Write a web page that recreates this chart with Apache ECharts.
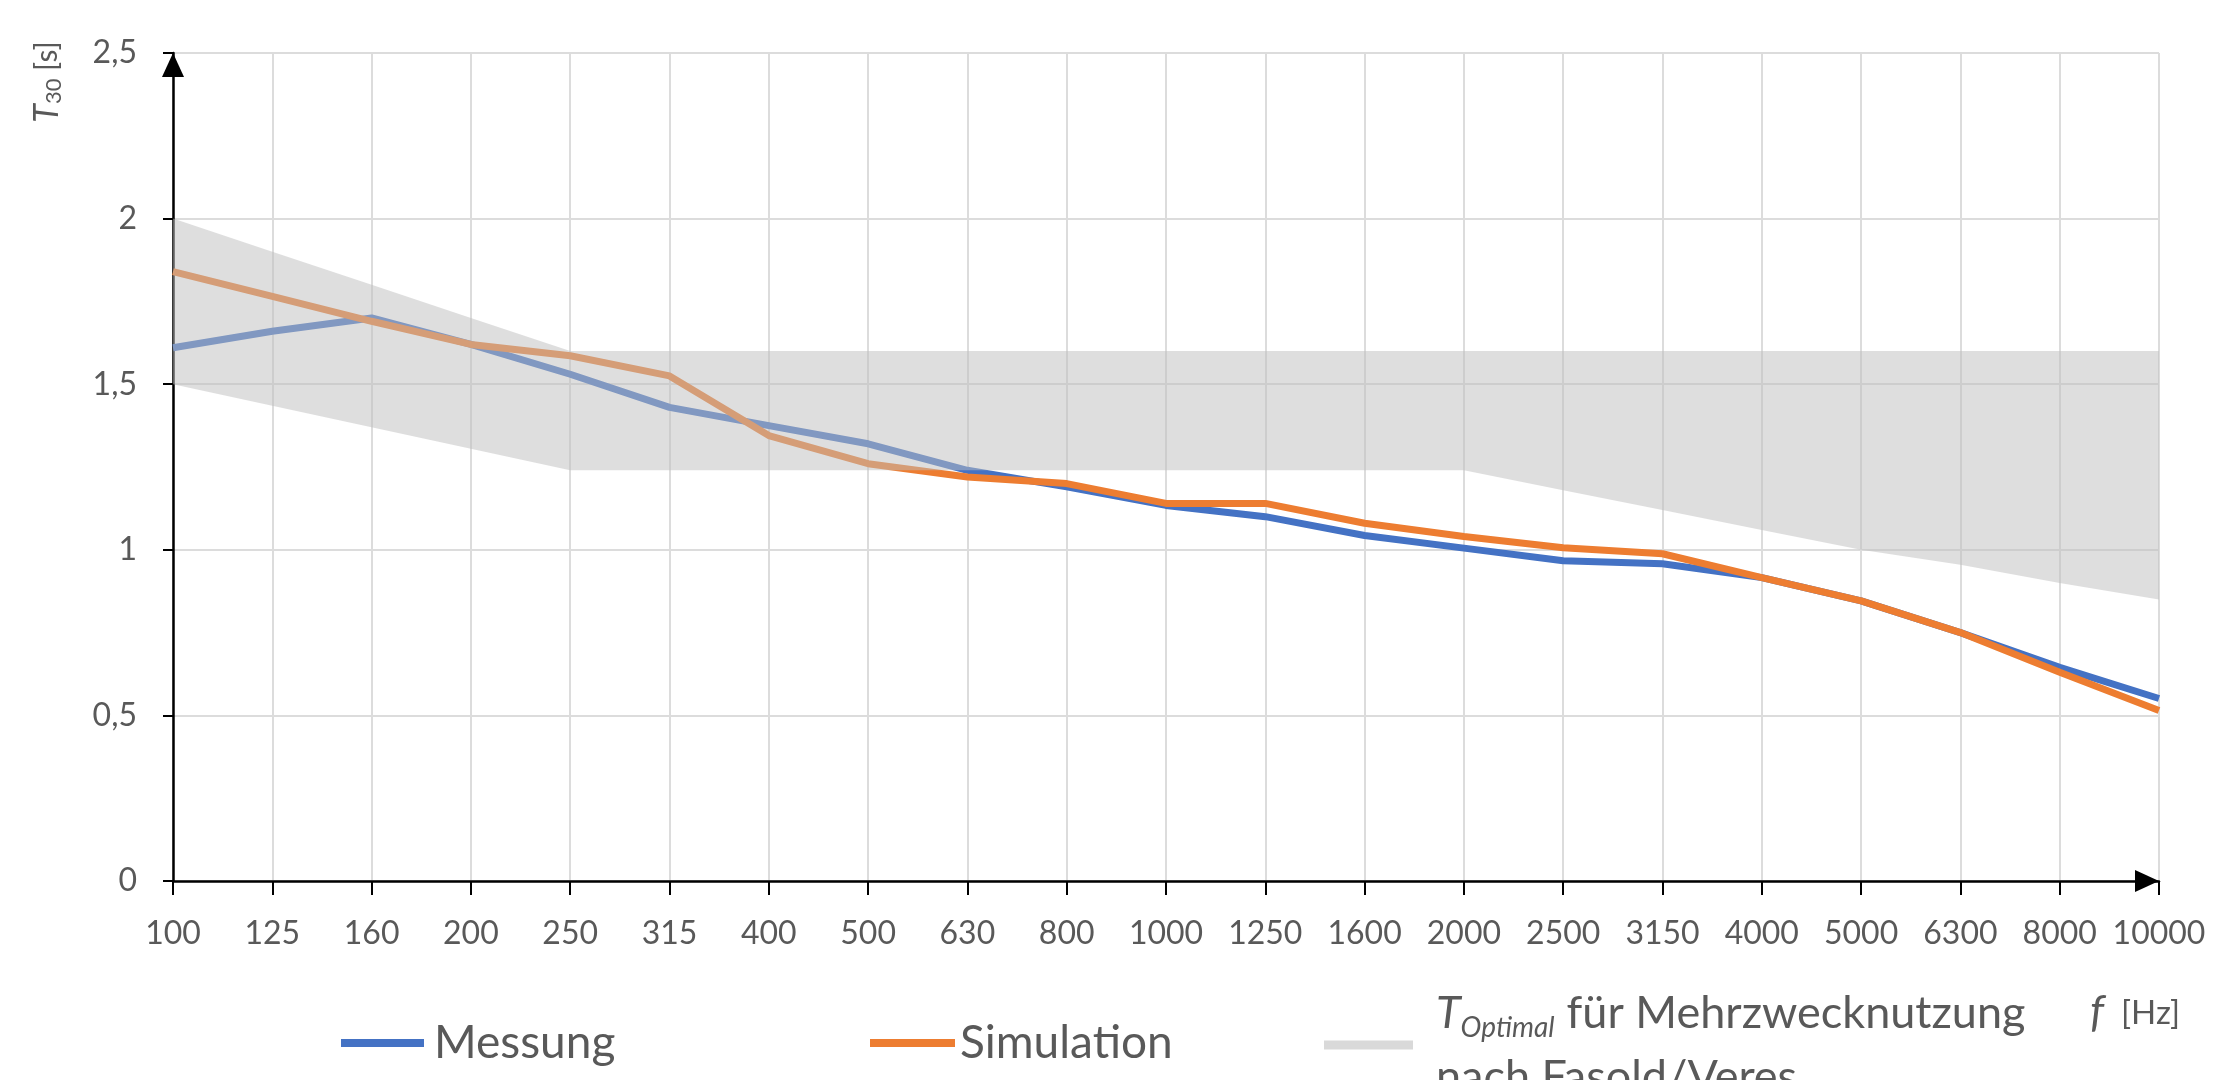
<!DOCTYPE html>
<html>
<head>
<meta charset="utf-8">
<script src="https://cdn.jsdelivr.net/npm/echarts@6/dist/echarts.min.js"></script>
<style>
html,body{margin:0;padding:0;background:#fff;}
#chart{width:2240px;height:1080px;}
</style>
</head>
<body>
<div id="chart"></div>
<script>
const categories = ['100','125','160','200','250','315','400','500','630','800','1000','1250','1600','2000','2500','3150','4000','5000','6300','8000','10000'];
const messung = [1.61,1.66,1.70,1.62,1.53,1.43,1.375,1.32,1.24,1.19,1.134,1.10,1.043,1.005,0.967,0.958,0.916,0.846,0.75,0.645,0.551];
const simulation = [1.84,1.765,1.69,1.62,1.586,1.525,1.345,1.26,1.22,1.20,1.14,1.14,1.08,1.04,1.006,0.988,0.916,0.846,0.75,0.63,0.515];
const bandLower = [1.5,1.435,1.37,1.305,1.24,1.24,1.24,1.24,1.24,1.24,1.24,1.24,1.24,1.24,1.18,1.12,1.06,1.0,0.955,0.90,0.85];
const bandUpper = [2.0,1.9,1.8,1.7,1.6,1.6,1.6,1.6,1.6,1.6,1.6,1.6,1.6,1.6,1.6,1.6,1.6,1.6,1.6,1.6,1.6];
const yTicks = ['0','0,5','1','1,5','2','2,5'];

const bandDiff = bandUpper.map((u, i) => +(u - bandLower[i]).toFixed(4));
const FONT = 'Lato';
const GREY = '#595959';

const chart = echarts.init(document.getElementById('chart'));
chart.setOption({
  animation: false,
  backgroundColor: '#fff',
  grid: {left: 173, right: 81, top: 53, bottom: 199, containLabel: false},
  xAxis: {
    type: 'category',
    data: categories,
    boundaryGap: false,
    axisLine: {lineStyle: {color: '#000', width: 2.5}, symbol: ['none', 'triangle'], symbolSize: [22, 24], symbolOffset: [0, -12]},
    axisTick: {show: true, interval: 0, length: 14, lineStyle: {color: '#000', width: 2}},
    axisLabel: {interval: 0, hideOverlap: false, color: GREY, fontFamily: FONT, fontSize: 32, margin: 37},
    splitLine: {show: true, interval: 0, lineStyle: {color: '#dcdcdc', width: 2}}
  },
  yAxis: {
    type: 'value',
    min: 0, max: 2.5, interval: 0.5,
    axisLine: {show: true, lineStyle: {color: '#000', width: 2.5}, symbol: ['none', 'triangle'], symbolSize: [22, 24], symbolOffset: [0, -12]},
    axisTick: {show: true, length: 10, lineStyle: {color: '#000', width: 2}},
    axisLabel: {color: GREY, fontFamily: FONT, fontSize: 32, margin: 36,
      formatter: v => yTicks[Math.round(v / 0.5)]},
    splitLine: {show: true, lineStyle: {color: '#dcdcdc', width: 2}}
  },
  legend: [
    {data: ['Messung'], left: 341, top: 1018, padding: 0, icon: 'rect', itemWidth: 83, itemHeight: 8,
     textStyle: {fontFamily: FONT, fontSize: 46, color: GREY, lineHeight: 50, padding: [0,0,0,5]}},
    {data: ['Simulation'], left: 870, top: 1018, padding: 0, icon: 'rect', itemWidth: 85, itemHeight: 8,
     textStyle: {fontFamily: FONT, fontSize: 46, color: GREY, lineHeight: 50, padding: [0,0,0,0]}},
    {data: ['band'], left: 1324, top: 981, padding: 0, icon: 'rect', itemWidth: 89, itemHeight: 9,
     formatter: () => '{t|T}{s|Optimal}für Mehrzwecknutzung\nnach Fasold/Veres',
     textStyle: {fontFamily: FONT, fontSize: 45, color: GREY, lineHeight: 64, padding: [0,0,0,18],
       rich: {t: {fontStyle: 'italic', fontSize: 45, fontFamily: FONT, color: GREY, lineHeight: 64},
              s: {fontStyle: 'italic', fontSize: 28, fontFamily: FONT, color: GREY, lineHeight: 64, padding: [30,12,0,0]}}}}
  ],
  series: [
    {name: 'Messung', type: 'line', data: messung, showSymbol: false, symbol: 'none', z: 2,
     color: '#4472C4', lineStyle: {color: '#4472C4', width: 7}},
    {name: 'Simulation', type: 'line', data: simulation, showSymbol: false, symbol: 'none', z: 3,
     color: '#ED7D31', lineStyle: {color: '#ED7D31', width: 7}},
    {name: 'bandBase', type: 'line', stack: 'band', data: bandLower, showSymbol: false, symbol: 'none', z: 4,
     lineStyle: {width: 0, opacity: 0}},
    {name: 'band', type: 'line', stack: 'band', data: bandDiff, showSymbol: false, symbol: 'none', z: 4,
     color: '#d9d9d9', lineStyle: {width: 0, opacity: 0},
     areaStyle: {color: 'rgba(189,189,189,0.5)', opacity: 1}}
  ],
  graphic: [
    {type: 'text', x: 47, y: 82, rotation: Math.PI / 2,
     style: {text: '{t|T}{s|30} [s]', fill: GREY, font: '30px Lato', align: 'center', verticalAlign: 'middle',
       rich: {t: {fontStyle: 'italic', fontSize: 34, fontFamily: FONT, fill: GREY},
              s: {fontSize: 22, fontFamily: FONT, fill: GREY, padding: [14,0,0,0]}}}},
    {type: 'text', x: 2090, y: 1013,
     style: {text: '{f|f}  [Hz]', fill: GREY, font: '33px Lato', align: 'left', verticalAlign: 'middle',
       rich: {f: {fontStyle: 'italic', fontSize: 44, fontFamily: FONT, fill: GREY}}}}
  ]
});
</script>
</body>
</html>
